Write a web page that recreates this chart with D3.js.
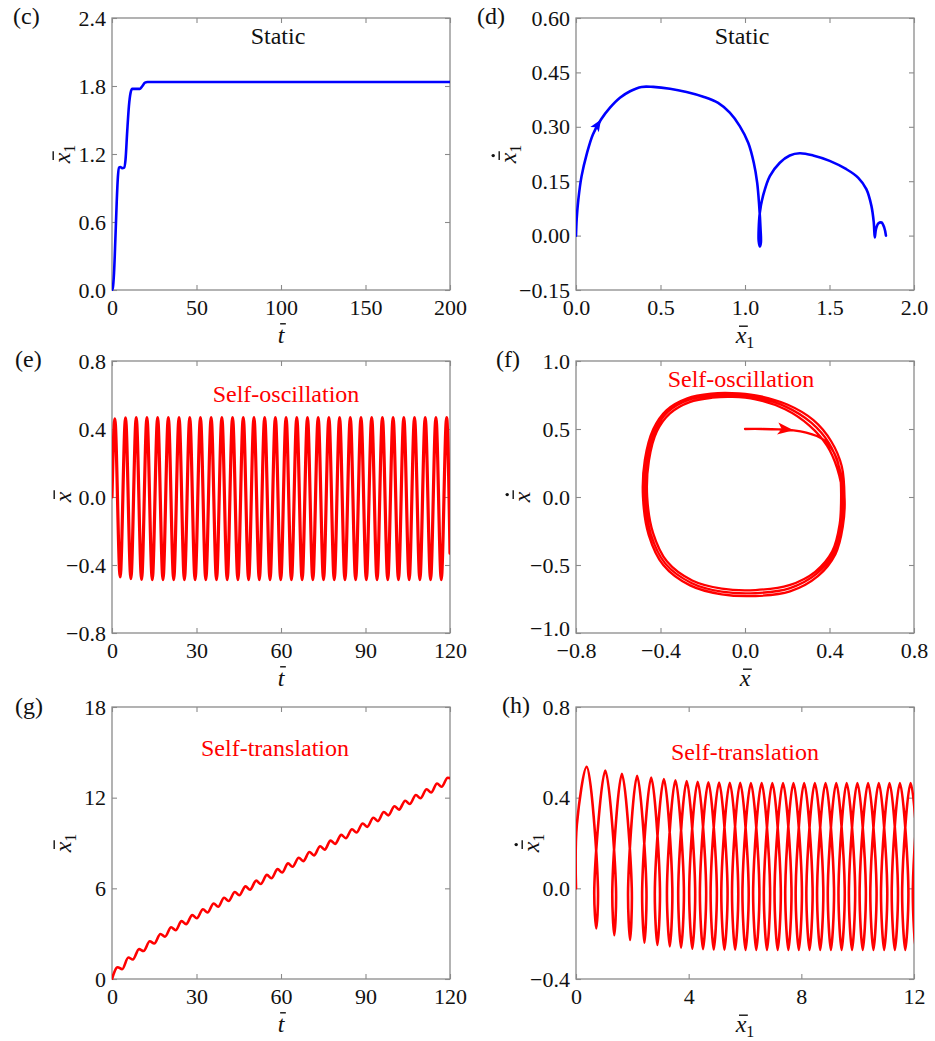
<!DOCTYPE html>
<html>
<head>
<meta charset="utf-8">
<script src="https://cdn.jsdelivr.net/npm/d3@7"></script>
<style>
  html, body { margin: 0; padding: 0; background: #fff; }
  svg { display: block; }
</style>
</head>
<body>
<svg id="fig" width="935" height="1041"></svg>
<script>
// ---------------- data ----------------

// (c) static regime: displacement x1 against time
const cTime = [0, 0.5, 1.2, 2.0, 2.8, 3.5, 4.2, 5.0, 6.0, 7.2, 8.0, 9.0, 10.0, 11.0, 12.0, 14.0, 16.5, 18.0, 19.5, 21.0, 30, 60, 100, 150, 200];
const cDisp = [0, 0.02, 0.15, 0.45, 0.78, 1.00, 1.08, 1.085, 1.075, 1.08, 1.15, 1.40, 1.62, 1.74, 1.775, 1.775, 1.775, 1.80, 1.83, 1.835, 1.835, 1.835, 1.835, 1.835, 1.835];

// (d) static regime: phase trajectory [x1, dx1/dt]
const dPhase = [
  [0, 0], [0.004, 0.045], [0.014, 0.10], [0.033, 0.164], [0.063, 0.224], [0.10, 0.279],
  [0.148, 0.32], [0.20, 0.352], [0.26, 0.38], [0.32, 0.398], [0.388, 0.41], [0.457, 0.41],
  [0.556, 0.405], [0.654, 0.396], [0.753, 0.383], [0.841, 0.366], [0.91, 0.339], [0.969, 0.302],
  [1.019, 0.256], [1.052, 0.201], [1.072, 0.146], [1.084, 0.082], [1.092, 0.018], [1.094, -0.019],
  [1.088, -0.03], [1.081, -0.015], [1.081, 0.018], [1.088, 0.064], [1.107, 0.11], [1.147, 0.164],
  [1.206, 0.201], [1.265, 0.221], [1.324, 0.227], [1.403, 0.221], [1.501, 0.206], [1.60, 0.183],
  [1.669, 0.16], [1.718, 0.128], [1.748, 0.082], [1.762, 0.036], [1.768, -0.005], [1.775, 0.018],
  [1.79, 0.034], [1.808, 0.036], [1.824, 0.022], [1.834, 0.0]
];
const dArrowIndex = 6;

// (e) self-oscillation: extrema of x against time
const ePeakT = [1.0, 4.8, 8.6, 12.4, 16.2, 20.0, 23.8, 27.6, 31.4, 35.2, 39.0, 42.8, 46.6, 50.4, 54.2, 58.0,
                61.8, 65.6, 69.4, 73.2, 77.0, 80.8, 84.6, 88.4, 92.2, 96.0, 99.8, 103.6, 107.4, 111.2, 115.0, 118.8];
const ePeakV = [0.46, 0.465, 0.467, 0.467, 0.467, 0.467, 0.467, 0.467, 0.467, 0.467, 0.467, 0.467, 0.467, 0.467, 0.467, 0.467,
                0.467, 0.467, 0.467, 0.467, 0.467, 0.467, 0.467, 0.467, 0.467, 0.467, 0.467, 0.467, 0.467, 0.467, 0.467, 0.467];
const eTroughT = [2.9, 6.7, 10.5, 14.3, 18.1, 21.9, 25.7, 29.5, 33.3, 37.1, 40.9, 44.7, 48.5, 52.3, 56.1, 59.9,
                  63.7, 67.5, 71.3, 75.1, 78.9, 82.7, 86.5, 90.3, 94.1, 97.9, 101.7, 105.5, 109.3, 113.1, 116.9];
const eTroughV = [-0.47, -0.48, -0.485, -0.486, -0.486, -0.486, -0.486, -0.486, -0.486, -0.486, -0.486, -0.486, -0.486, -0.486, -0.486, -0.486,
                  -0.486, -0.486, -0.486, -0.486, -0.486, -0.486, -0.486, -0.486, -0.486, -0.486, -0.486, -0.486, -0.486, -0.486, -0.486];
const eStart = [0, 0];
const eEnd = [120, -0.33];

// (f) self-oscillation: phase trajectory [x, dx/dt], transient then successive loops
const fTransient = [[0, 0.5], [0.08, 0.5], [0.16, 0.497], [0.23, 0.49], [0.29, 0.474], [0.34, 0.448],
                    [0.38, 0.41], [0.41, 0.355], [0.435, 0.28], [0.45, 0.17]];
const fArrowIndex = 3;
const fLoop1 = [[0.455, 0.02], [0.448, -0.2], [0.413, -0.40], [0.332, -0.55], [0.21, -0.648], [0.05, -0.684],
                [-0.11, -0.674], [-0.25, -0.614], [-0.369, -0.475], [-0.435, -0.266], [-0.463, 0.0], [-0.455, 0.266],
                [-0.417, 0.483], [-0.355, 0.615], [-0.262, 0.698], [-0.155, 0.73], [-0.06, 0.736], [0.05, 0.718],
                [0.19, 0.645], [0.305, 0.525], [0.388, 0.378], [0.436, 0.212]];
const fLoop2 = [[0.463, 0.0], [0.455, -0.21], [0.42, -0.41], [0.338, -0.566], [0.21, -0.672], [0.05, -0.707],
                [-0.11, -0.696], [-0.254, -0.632], [-0.378, -0.488], [-0.446, -0.272], [-0.473, 0.0], [-0.465, 0.27],
                [-0.426, 0.492], [-0.364, 0.628], [-0.268, 0.714], [-0.157, 0.746], [-0.06, 0.75], [0.05, 0.733],
                [0.195, 0.663], [0.315, 0.545], [0.398, 0.395], [0.446, 0.22]];
const fLoop3 = [[0.471, 0.0], [0.463, -0.218], [0.428, -0.42], [0.345, -0.582], [0.213, -0.694], [0.05, -0.728],
                [-0.11, -0.716], [-0.26, -0.65], [-0.387, -0.5], [-0.456, -0.278], [-0.483, 0.0], [-0.474, 0.274],
                [-0.434, 0.5], [-0.372, 0.638], [-0.273, 0.726], [-0.16, 0.76], [-0.062, 0.764], [0.05, 0.748],
                [0.2, 0.68], [0.324, 0.565], [0.408, 0.41], [0.458, 0.226], [0.471, 0.0]];

// (g)/(h) self-translation: per cycle, velocity maximum (top), local max of x1 (v = 0),
// velocity minimum (bottom) and local min of x1 (v = 0)
const hTopX = [0.38, 1.04, 1.63, 2.17, 2.67, 3.12, 3.53, 3.93, 4.32, 4.70, 5.08, 5.46, 5.83, 6.21, 6.59, 6.97,
               7.35, 7.72, 8.10, 8.48, 8.86, 9.24, 9.61, 9.99, 10.37, 10.75, 11.13, 11.50, 11.88, 12.26, 12.64, 13.02];
const hTopV = [0.536, 0.520, 0.505, 0.497, 0.489, 0.482, 0.477, 0.473, 0.470, 0.468, 0.467, 0.466, 0.466, 0.465, 0.465, 0.465,
               0.465, 0.465, 0.465, 0.465, 0.465, 0.465, 0.465, 0.465, 0.465, 0.465, 0.465, 0.465, 0.465, 0.465, 0.465, 0.465];
const xMax = [0.78, 1.42, 1.98, 2.50, 2.98, 3.42, 3.83, 4.23, 4.62, 5.00, 5.38, 5.76, 6.13, 6.51, 6.89, 7.27,
              7.65, 8.02, 8.40, 8.78, 9.16, 9.54, 9.91, 10.29, 10.67, 11.05, 11.43, 11.80, 12.18, 12.56, 12.94, 13.32];
const hBotX = [0.72, 1.36, 1.92, 2.43, 2.89, 3.33, 3.73, 4.13, 4.51, 4.89, 5.27, 5.65, 6.02, 6.40, 6.78, 7.16,
               7.54, 7.91, 8.29, 8.67, 9.05, 9.43, 9.80, 10.18, 10.56, 10.94, 11.32, 11.69, 12.07, 12.45, 12.83];
const hBotV = [-0.177, -0.207, -0.228, -0.240, -0.250, -0.256, -0.262, -0.266, -0.268, -0.270, -0.271, -0.271, -0.272, -0.272, -0.272, -0.272,
               -0.272, -0.272, -0.272, -0.272, -0.272, -0.272, -0.272, -0.272, -0.272, -0.272, -0.272, -0.272, -0.272, -0.272, -0.272];
const xMin = [0.65, 1.29, 1.85, 2.35, 2.80, 3.23, 3.63, 4.02, 4.40, 4.78, 5.16, 5.54, 5.91, 6.29, 6.67, 7.05,
              7.43, 7.80, 8.18, 8.56, 8.94, 9.32, 9.69, 10.07, 10.45, 10.83, 11.21, 11.58, 11.96, 12.34, 12.72];
// times of the local max / min of x1
const tMax = [2.0, 5.8, 9.6, 13.4, 17.2, 21.0, 24.7, 28.5, 32.3, 36.1, 39.8, 43.6, 47.4, 51.2, 55.0, 58.8,
              62.5, 66.3, 70.1, 73.9, 77.6, 81.4, 85.2, 89.0, 92.8, 96.5, 100.3, 104.1, 107.9, 111.7, 115.4, 119.2];
const tMin = [3.6, 7.4, 11.2, 15.0, 18.8, 22.6, 26.3, 30.1, 33.9, 37.7, 41.4, 45.2, 49.0, 52.8, 56.6, 60.4,
              64.1, 67.9, 71.7, 75.5, 79.2, 83.0, 86.8, 90.6, 94.4, 98.1, 101.9, 105.7, 109.5, 113.3, 117.0];
const hLaunch = [[0, 0], [0.03, 0.28]];
const gEnd = [120, 13.29];

// tick values
const cXTicks = [0, 50, 100, 150, 200],      cYTicks = [0, 0.6, 1.2, 1.8, 2.4];
const dXTicks = [0, 0.5, 1.0, 1.5, 2.0],     dYTicks = [-0.15, 0, 0.15, 0.30, 0.45, 0.60];
const eXTicks = [0, 30, 60, 90, 120],        eYTicks = [-0.8, -0.4, 0, 0.4, 0.8];
const fXTicks = [-0.8, -0.4, 0, 0.4, 0.8],   fYTicks = [-1.0, -0.5, 0, 0.5, 1.0];
const gXTicks = [0, 30, 60, 90, 120],        gYTicks = [0, 6, 12, 18];
const hXTicks = [0, 4, 8, 12],               hYTicks = [-0.4, 0, 0.4, 0.8];

// ---------------- drawing ----------------
const serif = "'Liberation Serif', 'Times New Roman', Times, serif";
const ink = '#111';
const frameColor = '#8a8a8a';
const BLUE = '#0000ff', RED = '#ff0000';
const svg = d3.select('#fig');

function styleAxis(sel) {
  sel.attr('font-family', serif).attr('font-size', 22);
  sel.select('.domain').remove();
  sel.selectAll('.tick line').attr('stroke', frameColor).attr('stroke-width', 1.1);
  sel.selectAll('.tick text').attr('font-family', serif).attr('font-size', 22).attr('fill', ink);
}

// italic symbol with overbar, optional subscript and time-derivative dot
function mathLabel(parent, sym, sub, dot) {
  const size = 24;
  const text = parent.append('text')
    .attr('font-family', serif).attr('font-size', size)
    .attr('text-anchor', 'middle').attr('fill', ink);
  text.append('tspan').attr('font-style', 'italic').text(sym);
  if (sub) text.append('tspan').attr('font-size', 16).attr('dy', 5).text(sub);
  const box = text.node().getExtentOfChar(0);
  const lift = sym === 't' ? 0.8 * size : 0.7 * size;
  const x1 = box.x + box.width * 0.22 + 1, x2 = box.x + box.width + 1.5;
  parent.append('line')
    .attr('x1', x1).attr('x2', x2).attr('y1', -lift).attr('y2', -lift)
    .attr('stroke', ink).attr('stroke-width', 1.4);
  if (dot) {
    parent.append('circle').attr('cx', (x1 + x2) / 2).attr('cy', -lift - 6).attr('r', 1.7).attr('fill', ink);
  }
}

function makePanel(p) {
  const g = svg.append('g').attr('transform', `translate(${p.x},${p.y})`);
  const xs = d3.scaleLinear().domain(p.xDomain).range([0, p.w]);
  const ys = d3.scaleLinear().domain(p.yDomain).range([p.h, 0]);

  g.append('clipPath').attr('id', 'clip-' + p.id)
    .append('rect').attr('x', 0).attr('y', -1).attr('width', p.w).attr('height', p.h + 2);

  g.append('g').attr('transform', `translate(0,${p.h})`)
    .call(d3.axisBottom(xs).tickValues(p.xTicks).tickFormat(d3.format(p.xFmt))
      .tickSizeInner(-5).tickSizeOuter(0).tickPadding(9))
    .call(styleAxis);
  const yAxis = g.append('g')
    .call(d3.axisLeft(ys).tickValues(p.yTicks).tickFormat(d3.format(p.yFmt))
      .tickSizeInner(-5).tickSizeOuter(0).tickPadding(6))
    .call(styleAxis);
  // lift the lowest y label a little so it clears the first x label
  if (p.liftLowest) {
    yAxis.selectAll('.tick text').filter(d => d === p.yDomain[0]).attr('dy', '0.12em');
  }
  g.append('g')
    .call(d3.axisTop(xs).tickValues(p.xTicks).tickFormat('').tickSizeInner(-5).tickSizeOuter(0))
    .call(styleAxis);
  g.append('g').attr('transform', `translate(${p.w},0)`)
    .call(d3.axisRight(ys).tickValues(p.yTicks).tickFormat('').tickSizeInner(-5).tickSizeOuter(0))
    .call(styleAxis);

  g.append('rect').attr('width', p.w).attr('height', p.h)
    .attr('fill', 'none').attr('stroke', frameColor).attr('stroke-width', 1.3);

  const plot = g.append('g').attr('clip-path', `url(#clip-${p.id})`);

  // panel letter
  svg.append('text').attr('x', p.letterPos[0]).attr('y', p.letterPos[1])
    .attr('font-family', serif).attr('font-size', 24).attr('fill', ink).text(`(${p.id})`);

  // regime annotation
  g.append('text').attr('x', p.note[0]).attr('y', p.note[1])
    .attr('text-anchor', 'middle').attr('font-family', serif).attr('font-size', 24)
    .attr('fill', p.noteColor).text(p.noteText);

  // axis titles
  mathLabel(g.append('g').attr('transform', `translate(${p.w / 2},${p.h + 53})`),
    p.xLabel[0], p.xLabel[1], p.xLabel[2]);
  mathLabel(g.append('g').attr('transform', `translate(${p.yLabelX},${p.h / 2}) rotate(-90)`),
    p.yLabel[0], p.yLabel[1], p.yLabel[2]);

  return { g, plot, xs, ys };
}

function drawLine(panel, pts, curve, color, width) {
  const line = d3.line().x(d => panel.xs(d[0])).y(d => panel.ys(d[1])).curve(curve);
  panel.plot.append('path').attr('d', line(pts))
    .attr('fill', 'none').attr('stroke', color).attr('stroke-width', width)
    .attr('stroke-linejoin', 'round').attr('stroke-linecap', 'round');
}

// filled arrowhead whose tip sits on pts[i], oriented along the trajectory
function arrowHead(panel, pts, i, len, half, color) {
  const P = d => [panel.xs(d[0]), panel.ys(d[1])];
  const tip = P(pts[i]), a = P(pts[i - 1]), b = P(pts[i + 1]);
  let dx = b[0] - a[0], dy = b[1] - a[1];
  const n = Math.hypot(dx, dy); dx /= n; dy /= n;
  const base = [tip[0] - dx * len, tip[1] - dy * len];
  const nx = -dy, ny = dx;
  panel.plot.append('path')
    .attr('d', `M${tip[0]},${tip[1]}L${base[0] + nx * half},${base[1] + ny * half}L${base[0] + dx * len * 0.25},${base[1] + dy * len * 0.25}L${base[0] - nx * half},${base[1] - ny * half}Z`)
    .attr('fill', color);
}

const LEFT = 112, RIGHT = 576, W = 338, H = 272;
const catmull = d3.curveCatmullRom.alpha(0.5);

// (c)
const pc = makePanel({
  id: 'c', x: LEFT, y: 18, w: W, h: H, xDomain: [0, 200], yDomain: [0, 2.4],
  xTicks: cXTicks, yTicks: cYTicks, xFmt: 'd', yFmt: '.1f',
  letterPos: [13, 24], note: [166, 26], noteText: 'Static', noteColor: ink,
  xLabel: ['t', null, false], yLabel: ['x', '1', false], yLabelX: -42
});
drawLine(pc, cTime.map((t, i) => [t, cDisp[i]]), d3.curveMonotoneX, BLUE, 2.6);

// (d)
const pd = makePanel({
  id: 'd', x: RIGHT, y: 18, w: W, h: H, xDomain: [0, 2.0], yDomain: [-0.15, 0.60],
  xTicks: dXTicks, yTicks: dYTicks, xFmt: '.1f', yFmt: '.2f',
  letterPos: [477, 24], note: [166, 26], noteText: 'Static', noteColor: ink,
  xLabel: ['x', '1', false], yLabel: ['x', '1', true], yLabelX: -60
});
drawLine(pd, dPhase, catmull, BLUE, 2.6);
arrowHead(pd, dPhase, dArrowIndex, 12, 5, BLUE);

// (e)
const pe = makePanel({
  id: 'e', x: LEFT, y: 361, w: W, h: H, xDomain: [0, 120], yDomain: [-0.8, 0.8],
  xTicks: eXTicks, yTicks: eYTicks, xFmt: 'd', yFmt: '.1f',
  letterPos: [15, 367], note: [174, 41], noteText: 'Self-oscillation', noteColor: RED,
  xLabel: ['t', null, false], yLabel: ['x', null, false], yLabelX: -41
});
const eSeries = [eStart];
ePeakT.forEach((t, k) => {
  eSeries.push([t, ePeakV[k]]);
  if (k < eTroughT.length) eSeries.push([eTroughT[k], eTroughV[k]]);
});
eSeries.push(eEnd);
drawLine(pe, eSeries, d3.curveMonotoneX, RED, 3.2);

// (f)
const pf = makePanel({
  id: 'f', x: RIGHT, y: 361, w: W, h: H, xDomain: [-0.8, 0.8], yDomain: [-1.0, 1.0],
  xTicks: fXTicks, yTicks: fYTicks, xFmt: '.1f', yFmt: '.1f', liftLowest: true,
  letterPos: [496, 367], note: [165, 26], noteText: 'Self-oscillation', noteColor: RED,
  xLabel: ['x', null, false], yLabel: ['x', null, true], yLabelX: -46
});
drawLine(pf, fTransient.concat(fLoop1, fLoop2, fLoop3), catmull, RED, 2.3);
arrowHead(pf, fTransient, fArrowIndex, 16, 6, RED);

// (g)
const pg = makePanel({
  id: 'g', x: LEFT, y: 707, w: W, h: H, xDomain: [0, 120], yDomain: [0, 18],
  xTicks: gXTicks, yTicks: gYTicks, xFmt: 'd', yFmt: 'd',
  letterPos: [15, 714], note: [163, 49], noteText: 'Self-translation', noteColor: RED,
  xLabel: ['t', null, false], yLabel: ['x', '1', false], yLabelX: -41
});
const gSeries = [[0, 0]];
tMax.forEach((t, k) => {
  gSeries.push([t, xMax[k]]);
  if (k < tMin.length) gSeries.push([tMin[k], xMin[k]]);
});
gSeries.push(gEnd);
drawLine(pg, gSeries, d3.curveMonotoneX, RED, 2.6);

// (h)
const ph = makePanel({
  id: 'h', x: RIGHT, y: 707, w: W, h: H, xDomain: [0, 12], yDomain: [-0.4, 0.8],
  xTicks: hXTicks, yTicks: hYTicks, xFmt: 'd', yFmt: '.1f',
  letterPos: [502, 713], note: [169, 53], noteText: 'Self-translation', noteColor: RED,
  xLabel: ['x', '1', false], yLabel: ['x', '1', true], yLabelX: -37
});
const hSeries = hLaunch.slice();
hTopX.forEach((x, k) => {
  hSeries.push([x, hTopV[k]]);
  hSeries.push([xMax[k], 0]);
  if (k < hBotX.length) {
    hSeries.push([hBotX[k], hBotV[k]]);
    hSeries.push([xMin[k], 0]);
  }
});
drawLine(ph, hSeries, catmull, RED, 2.6);
</script>
</body>
</html>
